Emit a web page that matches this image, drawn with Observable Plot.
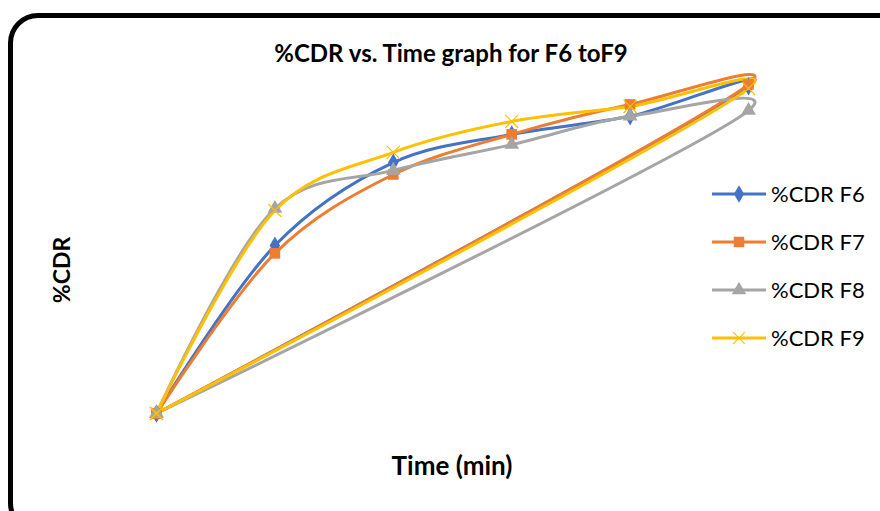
<!DOCTYPE html>
<html>
<head>
<meta charset="utf-8">
<script src="https://cdn.jsdelivr.net/npm/d3@7"></script>
<script src="https://cdn.jsdelivr.net/npm/@observablehq/plot@0.6"></script>
<style>
  html, body { margin: 0; padding: 0; background: #fff; }
  #wrap { position: relative; width: 880px; height: 511px; overflow: hidden; font-family: Lato, "Open Sans", sans-serif; }
  #frame { position: absolute; left: 8px; top: 13px; width: 900px; height: 520px; border: 5px solid #000; border-radius: 30px; box-sizing: border-box; }
  #chart, #overlay { position: absolute; left: 0; top: 0; }
  #overlay text { font-family: Lato, "Open Sans", sans-serif; fill: #000; }
</style>
</head>
<body>
<div id="wrap">
  <div id="frame"></div>
  <div id="chart"></div>
  <svg id="overlay" width="880" height="511" xmlns="http://www.w3.org/2000/svg">
    <text x="451" y="62" text-anchor="middle" font-size="24" font-weight="700">%CDR vs. Time graph for F6 toF9</text>
    <text x="452" y="475" text-anchor="middle" font-size="26" font-weight="700">Time (min)</text>
    <text transform="translate(70,270) rotate(-90)" text-anchor="middle" font-size="23" font-weight="700">%CDR</text>
    <g id="legend"></g>
  </svg>
</div>
<script>
const times = [0, 15, 30, 45, 60, 75];
const seriesNames = ["%CDR F6", "%CDR F7", "%CDR F8", "%CDR F9"];
const f6 = [0, 49.4, 73.8, 82.1, 87.4, 96.2];
const f7 = [0, 47.1, 70.3, 82.1, 90.9, 96.8];
const f8 = [0, 60.3, 71.5, 79.1, 87.4, 89.1];
const f9 = [0, 59.7, 76.8, 85.9, 90.3, 95.6];
const colors = ["#4472C4", "#ED7D31", "#A5A5A5", "#FFC000"];
const symbols = ["diamond", "square", "triangle", "times"];

const allValues = [f6, f7, f8, f9];
// each series is drawn as in the source: through the points, then back to the first point
const rows = [];
allValues.forEach((vals, si) => {
  const pts = times.map((t, i) => ({ t, v: vals[i] }));
  pts.push({ t: times[0], v: vals[0] });
  pts.forEach((p, i) => rows.push({ series: seriesNames[si], time: p.t, cdr: p.v, order: i, si }));
});

const marks = [];
seriesNames.forEach((name, si) => {
  const d = rows.filter(r => r.si === si);
  marks.push(Plot.line(d, { x: "time", y: "cdr", stroke: colors[si], strokeWidth: 3, curve: "catmull-rom", tension: 0.2 }));
});
seriesNames.forEach((name, si) => {
  const d = rows.filter(r => r.si === si);
  if (symbols[si] === "times") {
    marks.push(Plot.dot(d, { x: "time", y: "cdr", symbol: "times", r: 6, stroke: colors[si], strokeWidth: 1.2 }));
  } else {
    marks.push(Plot.dot(d, { x: "time", y: "cdr", symbol: symbols[si], r: si === 1 ? 6 : 5.5, fill: colors[si], stroke: "none" }));
  }
});

const chart = Plot.plot({
  width: 880,
  height: 511,
  marginLeft: 156,
  marginRight: 132,
  marginTop: 73,
  marginBottom: 98,
  style: { background: "transparent", overflow: "visible" },
  x: { domain: [0, 75], axis: null },
  y: { domain: [0, 100], axis: null },
  marks
});
document.getElementById("chart").appendChild(chart);

// legend
const ns = "http://www.w3.org/2000/svg";
const legend = document.getElementById("legend");
const legendY = [194, 242, 290, 338];
seriesNames.forEach((name, si) => {
  const cy = legendY[si];
  const line = document.createElementNS(ns, "line");
  line.setAttribute("x1", 712); line.setAttribute("x2", 766);
  line.setAttribute("y1", cy); line.setAttribute("y2", cy);
  line.setAttribute("stroke", colors[si]); line.setAttribute("stroke-width", 3);
  legend.appendChild(line);
  const sym = { diamond: d3.symbolDiamond, square: d3.symbolSquare, triangle: d3.symbolTriangle, times: d3.symbolTimes }[symbols[si]];
  const path = document.createElementNS(ns, "path");
  const size = si === 1 ? 110 : 90;
  path.setAttribute("d", d3.symbol(sym, size)());
  path.setAttribute("transform", `translate(739,${cy})`);
  if (symbols[si] === "times") { path.setAttribute("fill", "none"); path.setAttribute("stroke", colors[si]); path.setAttribute("stroke-width", 1.2); }
  else path.setAttribute("fill", colors[si]);
  legend.appendChild(path);
  const text = document.createElementNS(ns, "text");
  text.setAttribute("x", 771);
  text.setAttribute("y", cy + 8);
  text.setAttribute("font-size", 22);
  text.textContent = name;
  legend.appendChild(text);
});
</script>
</body>
</html>
